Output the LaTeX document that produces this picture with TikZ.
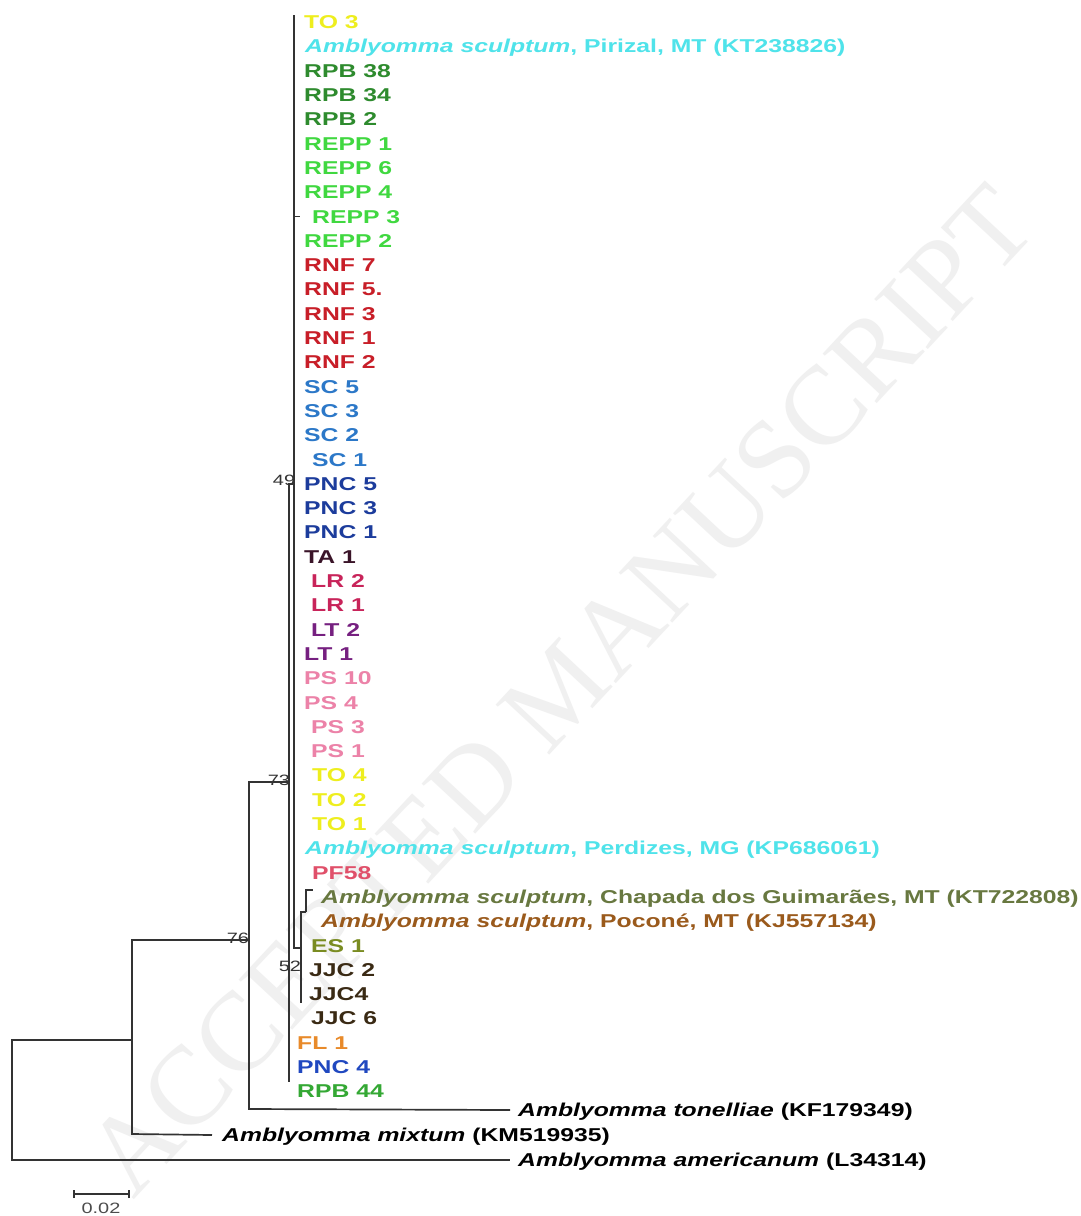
\documentclass[tikz,border=0pt]{standalone}
\usepackage{fontspec}
\setmainfont{Liberation Sans}[FakeStretch=1.33]
\newfontfamily\wmfont{Liberation Serif}
\definecolor{cTO}{HTML}{EEEE1E}
\definecolor{cAS}{HTML}{4FE3EA}
\definecolor{cRPB}{HTML}{2E8B2E}
\definecolor{cREPP}{HTML}{40D840}
\definecolor{cRNF}{HTML}{C81E28}
\definecolor{cSC}{HTML}{2C78C8}
\definecolor{cPNC}{HTML}{1C3C9C}
\definecolor{cTA}{HTML}{3A1428}
\definecolor{cLR}{HTML}{C8245A}
\definecolor{cLT}{HTML}{762080}
\definecolor{cPS}{HTML}{EC82A8}
\definecolor{cPF}{HTML}{E0506A}
\definecolor{cCH}{HTML}{687840}
\definecolor{cPO}{HTML}{9A5A1C}
\definecolor{cES}{HTML}{7A8C22}
\definecolor{cJJC}{HTML}{3A2A14}
\definecolor{cFL}{HTML}{E88A2A}
\definecolor{cPNCf}{HTML}{2048C0}
\definecolor{cRPBf}{HTML}{34A834}
\definecolor{cline}{HTML}{333333}
\begin{document}
\begin{tikzpicture}[x=1pt,y=-1pt,
  br/.style={line width=1.7pt, draw=cline},
  tip/.style={anchor=west, inner sep=0pt, text height=13.3pt, text depth=0pt,
    font=\fontsize{18.6}{20}\selectfont\bfseries},
  boot/.style={inner sep=0pt, text height=10.5pt, text depth=0pt,
    font=\fontsize{15}{16}\selectfont, text=black!80},
]
\useasboundingbox[fill=white] (0,0) rectangle (1081,1216);
% watermark
\node[rotate=47, text=black!6, inner sep=0pt, font=\wmfont\fontsize{112}{112}\selectfont] (wm) at (560,690) {ACCEPTED MANUSCRIPT};
% tips
\node[tip, text=cTO] (t0) at (304,22) {TO 3};
\node[tip, text=cAS] (t1) at (305,46.3) {\textit{Amblyomma sculptum}, Pirizal, MT (KT238826)};
\node[tip, text=cRPB] (t2) at (304,70.6) {RPB 38};
\node[tip, text=cRPB] (t3) at (304,94.9) {RPB 34};
\node[tip, text=cRPB] (t4) at (304,119.2) {RPB 2};
\node[tip, text=cREPP] (t5) at (304,143.5) {REPP 1};
\node[tip, text=cREPP] (t6) at (304,167.8) {REPP 6};
\node[tip, text=cREPP] (t7) at (304,192.1) {REPP 4};
\node[tip, text=cREPP] (t8) at (312,216.4) {REPP 3};
\node[tip, text=cREPP] (t9) at (304,240.7) {REPP 2};
\node[tip, text=cRNF] (t10) at (304,265) {RNF 7};
\node[tip, text=cRNF] (t11) at (304,289.3) {RNF 5.};
\node[tip, text=cRNF] (t12) at (304,313.6) {RNF 3};
\node[tip, text=cRNF] (t13) at (304,337.9) {RNF 1};
\node[tip, text=cRNF] (t14) at (304,362.2) {RNF 2};
\node[tip, text=cSC] (t15) at (304,386.5) {SC 5};
\node[tip, text=cSC] (t16) at (304,410.8) {SC 3};
\node[tip, text=cSC] (t17) at (304,435.1) {SC 2};
\node[tip, text=cSC] (t18) at (312,459.4) {SC 1};
\node[tip, text=cPNC] (t19) at (304,483.7) {PNC 5};
\node[tip, text=cPNC] (t20) at (304,508) {PNC 3};
\node[tip, text=cPNC] (t21) at (304,532.3) {PNC 1};
\node[tip, text=cTA] (t22) at (304,556.6) {TA 1};
\node[tip, text=cLR] (t23) at (311,580.9) {LR 2};
\node[tip, text=cLR] (t24) at (311,605.2) {LR 1};
\node[tip, text=cLT] (t25) at (311,629.5) {LT 2};
\node[tip, text=cLT] (t26) at (304,653.8) {LT 1};
\node[tip, text=cPS] (t27) at (304,678.1) {PS 10};
\node[tip, text=cPS] (t28) at (304,702.4) {PS 4};
\node[tip, text=cPS] (t29) at (311,726.7) {PS 3};
\node[tip, text=cPS] (t30) at (311,751) {PS 1};
\node[tip, text=cTO] (t31) at (312,775.3) {TO 4};
\node[tip, text=cTO] (t32) at (312,799.6) {TO 2};
\node[tip, text=cTO] (t33) at (312,823.9) {TO 1};
\node[tip, text=cAS] (t34) at (305,848.2) {\textit{Amblyomma sculptum}, Perdizes, MG (KP686061)};
\node[tip, text=cPF] (t35) at (312,872.5) {PF58};
\node[tip, text=cCH] (t36) at (321,896.8) {\textit{Amblyomma sculptum}, Chapada dos Guimarães, MT (KT722808)};
\node[tip, text=cPO] (t37) at (321,921.1) {\textit{Amblyomma sculptum}, Poconé, MT (KJ557134)};
\node[tip, text=cES] (t38) at (311,945.4) {ES 1};
\node[tip, text=cJJC] (t39) at (309,969.7) {JJC 2};
\node[tip, text=cJJC] (t40) at (309,994) {JJC4};
\node[tip, text=cJJC] (t41) at (311,1018.3) {JJC 6};
\node[tip, text=cFL] (t42) at (297,1042.6) {FL 1};
\node[tip, text=cPNCf] (t43) at (297,1066.9) {PNC 4};
\node[tip, text=cRPBf] (t44) at (297,1091.2) {RPB 44};
\node[tip, text=black] (ton) at (518,1110) {\textit{Amblyomma tonelliae} (KF179349)};
\node[tip, text=black] (mix) at (222,1135) {\textit{Amblyomma mixtum} (KM519935)};
\node[tip, text=black] (ame) at (518,1160) {\textit{Amblyomma americanum} (L34314)};
% internal nodes
\coordinate (n132) at (132,1040);
\coordinate (n249) at (249,940);
\coordinate (n289) at (289,782);
\coordinate (n294) at (294,484);
\coordinate (n301) at (301,948);
\coordinate (n306) at (306,912);
% branches
\draw[br] (n132) -| (12,1160) -- ([xshift=-8pt]ame.west);
\draw[br] (n249) -| (132,1134) -- ([xshift=-10pt]mix.west);
\draw[br] (n289) -| (249,1109) -- ([xshift=-8pt]ton.west);
\draw[br] (n294) -| (289,1082);
\draw[br] (n301) -| (294,15);
\draw[br] (294,216.4) -- ([xshift=-12pt]t8.west);
\draw[br] (n306) -| (301,1003);
\draw[br] (n306) |- ([xshift=-8pt]t36.north west);
% bootstrap values
\node[boot] (b49) at (284,480) {49};
\node[boot] (b73) at (279,780) {73};
\node[boot] (b76) at (238,938) {76};
\node[boot] (b52) at (290,966) {52};
% scale bar
\coordinate (sb1) at (74,1194);
\coordinate (sb2) at (129,1194);
\draw[br, line width=1.3pt] (sb1) -- (sb2);
\draw[br, line width=1.3pt] ([yshift=-4pt]sb1) -- ([yshift=4pt]sb1);
\draw[br, line width=1.3pt] ([yshift=-4pt]sb2) -- ([yshift=4pt]sb2);
\node[boot, text=black!70] (sbl) at (101,1208) {0.02};
\end{tikzpicture}
\end{document}
